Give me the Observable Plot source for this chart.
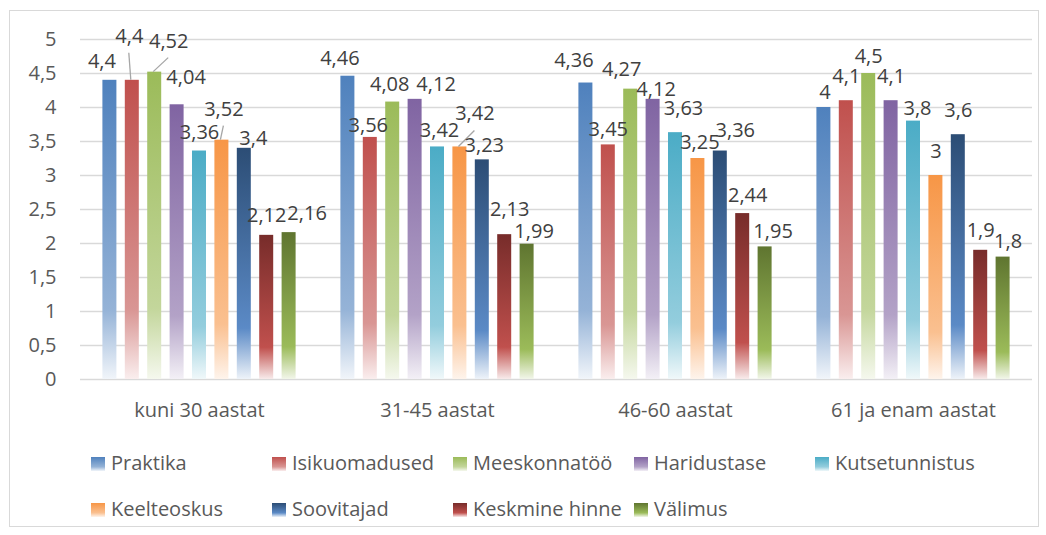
<!DOCTYPE html>
<html>
<head>
<meta charset="utf-8">
<script src="https://cdn.jsdelivr.net/npm/d3@7"></script>
<script src="https://cdn.jsdelivr.net/npm/@observablehq/plot@0.6"></script>
<style>
  html, body { margin: 0; padding: 0; background: #fff; }
  body { width: 1046px; height: 535px; position: relative; overflow: hidden; font-family: 'Open Sans', sans-serif; }
  #frame { position: absolute; left: 9px; top: 10px; width: 1030px; height: 517px; box-sizing: border-box; border: 1px solid #d9d9d9; pointer-events: none; }
  #chart { position: absolute; left: 0; top: 0; }
  #legend { position: absolute; left: 91px; top: 453px; display: grid; grid-template-columns: repeat(5, 181px); grid-auto-rows: 45.5px; }
  .item { display: flex; align-items: flex-start; font-size: 20px; line-height: 20px; color: #595959; white-space: nowrap; }
  .sw { width: 14px; height: 14px; margin-top: 4px; margin-right: 6px; flex: none; }
</style>
</head>
<body>
<div id="chart"></div>
<div id="legend"></div>
<div id="frame"></div>
<script>
// ---- data ----
const groups = ["kuni 30 aastat", "31-45 aastat", "46-60 aastat", "61 ja enam aastat"];
const series = ["Praktika", "Isikuomadused", "Meeskonnatöö", "Haridustase", "Kutsetunnistus", "Keelteoskus", "Soovitajad", "Keskmine hinne", "Välimus"];
const praktika       = [4.4, 4.46, 4.36, 4];
const isikuomadused  = [4.4, 3.56, 3.45, 4.1];
const meeskonnatoo   = [4.52, 4.08, 4.27, 4.5];
const haridustase    = [4.04, 4.12, 4.12, 4.1];
const kutsetunnistus = [3.36, 3.42, 3.63, 3.8];
const keelteoskus    = [3.52, 3.42, 3.25, 3];
const soovitajad     = [3.4, 3.23, 3.36, 3.6];
const keskmineHinne  = [2.12, 2.13, 2.44, 1.9];
const valimus        = [2.16, 1.99, 1.95, 1.8];
const yTicks = [0, 0.5, 1, 1.5, 2, 2.5, 3, 3.5, 4, 4.5, 5];

// ---- styling ----
const topColors = ["#4f81bd", "#c0504d", "#9bbb59", "#8064a2", "#4bacc6", "#f79646", "#2c4d75", "#772c2a", "#5f7530"];
const midColors = ["#95b3d7", "#d99694", "#c3d69b", "#b3a2c7", "#93cddd", "#fac090", "#5b8ac6", "#c0504d", "#9bbb59"];
const endColors = ["#f1f5fa", "#faeeee", "#f5f8ee", "#f3f0f6", "#f0f8fa", "#fef4ec", "#eef3f9", "#f8ebeb", "#f2f6ea"];
const midStop = [0.77, 0.77, 0.77, 0.77, 0.77, 0.77, 0.78, 0.78, 0.78];
// label placement (offset from bar top centre, px), group-major order
const labelNudge = [
  [-8,-20],[-3,-45],[14,-32],[9,-28],[0,-19],[2,-32],[9,-11],[0,-21],[18,-20],
  [-8,-19],[-2,-13],[-3,-18],[21,-16],[2,-17],[15,-34],[2,-15],[5,-26],[7,-14],
  [-12,-23],[0,-16],[-9,-21],[3,-11],[8,-25],[2,-17],[15,-21],[5,-19],[8,-16],
  [1,-16],[0,-25],[0,-18],[0,-25],[4,-14],[0,-25],[0,-25],[0,-21],[5,-17]
];
const leaders = [1, 2, 5, 14];

const valuesBySeries = [praktika, isikuomadused, meeskonnatoo, haridustase, kutsetunnistus, keelteoskus, soovitajad, keskmineHinne, valimus];
const data = [];
groups.forEach((g, gi) => series.forEach((s, si) => data.push({group: g, series: s, value: valuesBySeries[si][gi]})));

const fmt = v => String(v).replace(".", ",");

const plot = Plot.plot({
  width: 1046,
  height: 440,
  marginLeft: 80,
  marginRight: 14,
  marginTop: 39,
  marginBottom: 61,
  style: {fontFamily: "'Open Sans', sans-serif", fontSize: "20px", color: "#595959", background: "transparent", overflow: "visible"},
  fx: {domain: groups, padding: 0, round: false, axis: "bottom", tickSize: 0, tickPadding: 23, label: null},
  x: {domain: series, paddingInner: 0.375, paddingOuter: 1, round: false, axis: null},
  y: {domain: [0, 5], ticks: yTicks, tickFormat: fmt, tickSize: 0, tickPadding: 24, label: null},
  color: {type: "ordinal", domain: series, range: series.map((s, i) => `url(#grad${i})`)},
  marks: [
    Plot.ruleY(yTicks, {stroke: "#d9d9d9", strokeWidth: 1.6}),
    Plot.barY(data, {fx: "group", x: "series", y: "value", fill: "series"}),
    Plot.text(data, {fx: "group", x: "series", y: "value", text: d => fmt(d.value), fill: "#404040", fontSize: 20})
  ]
});

// gradients
const defs = d3.select(plot).insert("defs", ":first-child");
series.forEach((s, i) => {
  const lg = defs.append("linearGradient").attr("id", `grad${i}`).attr("x1", 0).attr("y1", 0).attr("x2", 0).attr("y2", 1);
  lg.append("stop").attr("offset", 0).attr("stop-color", topColors[i]);
  lg.append("stop").attr("offset", midStop[i]).attr("stop-color", midColors[i]);
  lg.append("stop").attr("offset", 1).attr("stop-color", endColors[i]);
});

// nudge data labels
const labels = plot.querySelectorAll('g[aria-label="text"] text');
labels.forEach((el, i) => {
  const [dx, dy] = labelNudge[i] || [0, -17];
  const t0 = el.getAttribute("transform") || "";
  el.setAttribute("transform", (t0 + ` translate(${dx},${dy + 1})`).trim());
});

// leader lines, from the bar tops drawn by Plot
const rects = plot.querySelectorAll('g[aria-label="bar"] rect');
leaders.forEach(i => {
  const r = rects[i];
  if (!r) return;
  const [dx, dy] = labelNudge[i];
  const cx = +r.getAttribute("x") + +r.getAttribute("width") / 2;
  const top = +r.getAttribute("y");
  d3.select(r.parentNode).append("line")
    .attr("x1", cx - 1).attr("y1", top)
    .attr("x2", cx + dx).attr("y2", top + dy + 18)
    .attr("stroke", "#a6a6a6").attr("stroke-width", 1.3)
    .attr("fill", "none");
});

document.getElementById("chart").appendChild(plot);

// legend
const legend = document.getElementById("legend");
series.forEach((name, i) => {
  const item = document.createElement("div");
  item.className = "item";
  const sw = document.createElement("span");
  sw.className = "sw";
  sw.style.background = `linear-gradient(to bottom, ${topColors[i]} 0%, ${midColors[i]} 70%, ${endColors[i]} 100%)`;
  const tx = document.createElement("span");
  tx.textContent = name;
  item.appendChild(sw); item.appendChild(tx);
  legend.appendChild(item);
});
</script>
</body>
</html>
